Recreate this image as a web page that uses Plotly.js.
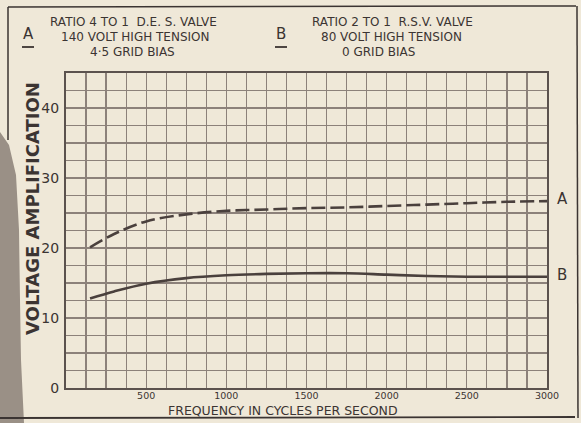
<!DOCTYPE html>
<html>
<head>
<meta charset="utf-8">
<script src="https://cdn.plot.ly/plotly-3.0.1.min.js"></script>
<style>html,body{margin:0;padding:0;background:#efe8d8;}#chart{width:581px;height:423px;}</style>
</head>
<body>
<div id="chart"></div>
<script>
// ---- data ----
const frequency = [150, 300, 500, 750, 1000, 1250, 1500, 1750, 2000, 2250, 2500, 2750, 3000];
const curveA = [20.1, 22.0, 23.8, 24.8, 25.3, 25.5, 25.7, 25.8, 26.0, 26.2, 26.4, 26.6, 26.7];
const curveB = [12.8, 13.8, 14.9, 15.7, 16.1, 16.3, 16.4, 16.4, 16.2, 16.0, 15.9, 15.9, 15.9];
const xTickValues = [500, 1000, 1500, 2000, 2500, 3000];
const xTickLabels = ['500', '1000', '1500', '2000', '2500', '3000'];
const yTickValues = [0, 10, 20, 30, 40];
const yTickLabels = ['0', '10', '20', '30', '40'];
const headerA = ['RATIO 4 TO 1  D.E. S. VALVE', '140 VOLT HIGH TENSION', '4·5 GRID BIAS'];
const headerB = ['RATIO 2 TO 1  R.S.V. VALVE', '80 VOLT HIGH TENSION', '0 GRID BIAS'];

// ---- page geometry (pixels) ----
const W = 581, H = 423;
const L = 66, R = 547, T = 73, B = 388;
const px = (x) => (x - L) / (R - L);
const py = (y) => (B - y) / (B - T);

const ink = '#3b3432';
const gridC = '#8c817a';
const font = 'DejaVu Sans, sans-serif';

const traces = [
  {x: frequency, y: curveA, mode: 'lines', line: {color: '#4a403d', width: 2.6, dash: '14px,5px', shape: 'spline'}, hoverinfo: 'skip'},
  {x: frequency, y: curveB, mode: 'lines', line: {color: '#4a403d', width: 2.6, shape: 'spline'}, hoverinfo: 'skip'}
];

function ann(text, x, y, size, extra) {
  return Object.assign({text: text, xref: 'paper', yref: 'paper', x: px(x), y: py(y),
    showarrow: false, font: {family: font, size: size, color: ink}, xanchor: 'center', yanchor: 'middle'}, extra || {});
}

const annotations = [
  ann(headerA[0], 133, 22, 12),
  ann(headerA[1], 135, 37, 12),
  ann(headerA[2], 132, 52, 12),
  ann(headerB[0], 392, 22, 12),
  ann(headerB[1], 391, 37, 12),
  ann(headerB[2], 378, 52, 12),
  ann('A', 28, 34, 15),
  ann('B', 281, 34, 15),
  ann('A', 562, 199, 15),
  ann('B', 562, 275, 15),
  ann('VOLTAGE AMPLIFICATION', 32, 209, 18, {textangle: -90, font: {family: font, size: 18, color: ink, weight: 'bold'}}),
  ann('FREQUENCY IN CYCLES PER SECOND', 283, 410, 12.5)
];

function line(x0, y0, x1, y1, w, c) {
  return {type: 'line', xref: 'paper', yref: 'paper', x0: px(x0), y0: py(y0), x1: px(x1), y1: py(y1),
    line: {color: c || ink, width: w || 1.5}};
}
const blob = [[0,132],[9,145],[16,175],[19,230],[20,300],[21,360],[24,423],[0,423]];
const blobPath = 'M ' + blob.map(p => px(p[0]) + ',' + py(p[1])).join(' L ') + ' Z';

const shapes = [
  {type: 'path', xref: 'paper', yref: 'paper', path: blobPath, fillcolor: '#9a9086', line: {width: 0}, layer: 'below'},
  line(8, 7, 576, 6, 1.5),
  line(8, 7, 8, 140, 1.5),
  line(577, 6, 578, 418, 1.5),
  line(0, 418, 575, 417, 1.8),
  line(22, 47, 34, 47, 1.8),
  line(275, 47, 287, 47, 1.8)
];

const layout = {
  width: W, height: H,
  margin: {l: L, r: W - R, t: T, b: H - B, pad: 0},
  paper_bgcolor: '#efe8d8',
  plot_bgcolor: '#efe8d8',
  showlegend: false,
  font: {family: font, color: ink},
  xaxis: {
    range: [0, 3000], tickmode: 'array', tickvals: xTickValues, ticktext: xTickLabels,
    tickfont: {family: font, size: 9.5, color: ink}, ticks: '', ticklen: 0, ticklabelstandoff: -2,
    showgrid: true, gridcolor: gridC, gridwidth: 1.2,
    minor: {tickmode: 'linear', tick0: 0, dtick: 125, showgrid: true, gridcolor: gridC, gridwidth: 1.2, ticks: ''},
    showline: true, linecolor: '#5b524e', linewidth: 2, mirror: true, zeroline: false, fixedrange: true
  },
  yaxis: {
    range: [0, 45], tickmode: 'array', tickvals: yTickValues, ticktext: yTickLabels,
    tickfont: {family: font, size: 14, color: ink}, ticks: '', ticklen: 0, ticklabelstandoff: 2,
    showgrid: true, gridcolor: gridC, gridwidth: 1.2,
    minor: {tickmode: 'linear', tick0: 0, dtick: 2.5, showgrid: true, gridcolor: gridC, gridwidth: 1.2, ticks: ''},
    showline: true, linecolor: '#5b524e', linewidth: 2, mirror: true, zeroline: false, fixedrange: true
  },
  annotations: annotations,
  shapes: shapes
};

Plotly.newPlot('chart', traces, layout, {staticPlot: true, displayModeBar: false});
</script>
</body>
</html>
